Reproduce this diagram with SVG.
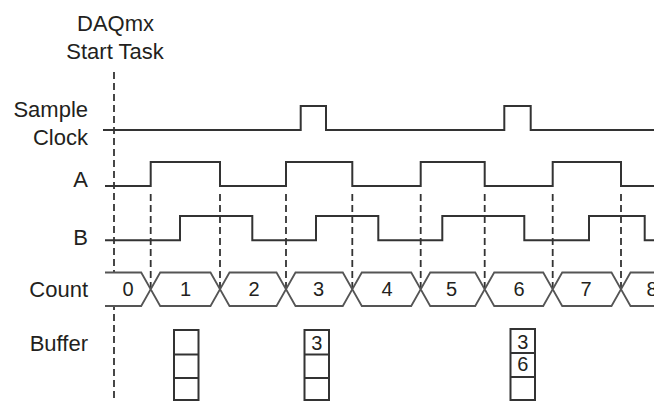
<svg xmlns="http://www.w3.org/2000/svg" width="654" height="401" viewBox="0 0 654 401">
<style>
.lbl{font-family:"Liberation Sans",Arial,sans-serif;font-size:22px;fill:#231f20;text-anchor:end}
.ttl{font-family:"Liberation Sans",Arial,sans-serif;font-size:22px;fill:#231f20;text-anchor:middle}
.num{font-family:"Liberation Sans",Arial,sans-serif;font-size:20px;fill:#231f20;text-anchor:middle}
.sig{fill:none;stroke:#333;stroke-width:2}
.bus{fill:#fff;stroke:#555;stroke-width:1.8;stroke-linejoin:miter}
.dash{fill:none;stroke:#333;stroke-width:1.8;stroke-dasharray:7 4}
.box{fill:#fff;stroke:#333;stroke-width:2}
</style>
<rect width="654" height="401" fill="#fff"/>
<g id="start-task">
<text class="ttl" x="115.5" y="30.5">DAQmx</text>
<text class="ttl" x="115" y="59">Start Task</text>
</g>
<g id="labels">
<text class="lbl" x="88" y="117">Sample</text>
<text class="lbl" x="88" y="145">Clock</text>
<text class="lbl" x="88" y="186.5">A</text>
<text class="lbl" x="88" y="245">B</text>
<text class="lbl" x="88" y="296.5">Count</text>
<text class="lbl" x="88" y="350.5">Buffer</text>
</g>
<g id="connectors">
<line class="dash" x1="114" y1="72" x2="114" y2="398"/>
<line class="dash" x1="150.7" y1="194" x2="150.7" y2="289"/>
<line class="dash" x1="220" y1="194" x2="220" y2="289"/>
<line class="dash" x1="286" y1="194" x2="286" y2="289"/>
<line class="dash" x1="352.3" y1="194" x2="352.3" y2="289"/>
<line class="dash" x1="420.7" y1="194" x2="420.7" y2="289"/>
<line class="dash" x1="484.7" y1="194" x2="484.7" y2="289"/>
<line class="dash" x1="552.7" y1="194" x2="552.7" y2="289"/>
<line class="dash" x1="621" y1="194" x2="621" y2="289"/>
</g>
<g id="sample-clock">
<path class="sig" d="M103,130 H300.7 V106 H326 V130 H504.3 V106 H530.7 V130 H654"/>
</g>
<g id="signal-a">
<path class="sig" d="M105,186 H150.7 V162 H220 V186 H286 V162 H352.3 V186 H420.7 V162 H484.7 V186 H552.7 V162 H621 V186 H654"/>
</g>
<g id="signal-b">
<path class="sig" d="M105,240.3 H180 V216 H252.3 V240.3 H316 V216 H378.3 V240.3 H442.3 V216 H524.3 V240.3 H589 V216 H644.7 V240.3 H654"/>
</g>
<g id="count">
<path class="bus" fill="none" d="M105,272.5 H141.2 L150.7,289.25 L141.2,306 H105"/>
<path class="bus" d="M150.7,289.25 L160.2,272.5 H210.5 L220,289.25 L210.5,306 H160.2 Z"/>
<path class="bus" d="M220,289.25 L229.5,272.5 H276.5 L286,289.25 L276.5,306 H229.5 Z"/>
<path class="bus" d="M286,289.25 L295.5,272.5 H342.8 L352.3,289.25 L342.8,306 H295.5 Z"/>
<path class="bus" d="M352.3,289.25 L361.8,272.5 H411.2 L420.7,289.25 L411.2,306 H361.8 Z"/>
<path class="bus" d="M420.7,289.25 L430.2,272.5 H475.2 L484.7,289.25 L475.2,306 H430.2 Z"/>
<path class="bus" d="M484.7,289.25 L494.2,272.5 H543.2 L552.7,289.25 L543.2,306 H494.2 Z"/>
<path class="bus" d="M552.7,289.25 L562.2,272.5 H611.5 L621,289.25 L611.5,306 H562.2 Z"/>
<path class="bus" d="M660,272.5 H630.5 L621,289.25 L630.5,306 H660"/>
<text class="num" x="128" y="296">0</text>
<text class="num" x="185.5" y="296">1</text>
<text class="num" x="254" y="296">2</text>
<text class="num" x="318.5" y="296">3</text>
<text class="num" x="387" y="296">4</text>
<text class="num" x="451.5" y="296">5</text>
<text class="num" x="519" y="296">6</text>
<text class="num" x="586" y="296">7</text>
<text class="num" x="652" y="296">8</text>
</g>
<g id="buffer-1">
<rect class="box" x="174" y="330" width="24.5" height="70"/>
<line class="box" x1="174" y1="354.5" x2="198.5" y2="354.5"/>
<line class="box" x1="174" y1="378" x2="198.5" y2="378"/>
</g>
<g id="buffer-2">
<rect class="box" x="304.5" y="330" width="24.5" height="70"/>
<line class="box" x1="304.5" y1="354.5" x2="329" y2="354.5"/>
<line class="box" x1="304.5" y1="378" x2="329" y2="378"/>
<text class="num" x="316.7" y="349.5">3</text>
</g>
<g id="buffer-3">
<rect class="box" x="510.5" y="329" width="24.5" height="71"/>
<line class="box" x1="510.5" y1="353" x2="535" y2="353"/>
<line class="box" x1="510.5" y1="377" x2="535" y2="377"/>
<text class="num" x="522.7" y="349">3</text>
<text class="num" x="522.7" y="371">6</text>
</g>
</svg>
